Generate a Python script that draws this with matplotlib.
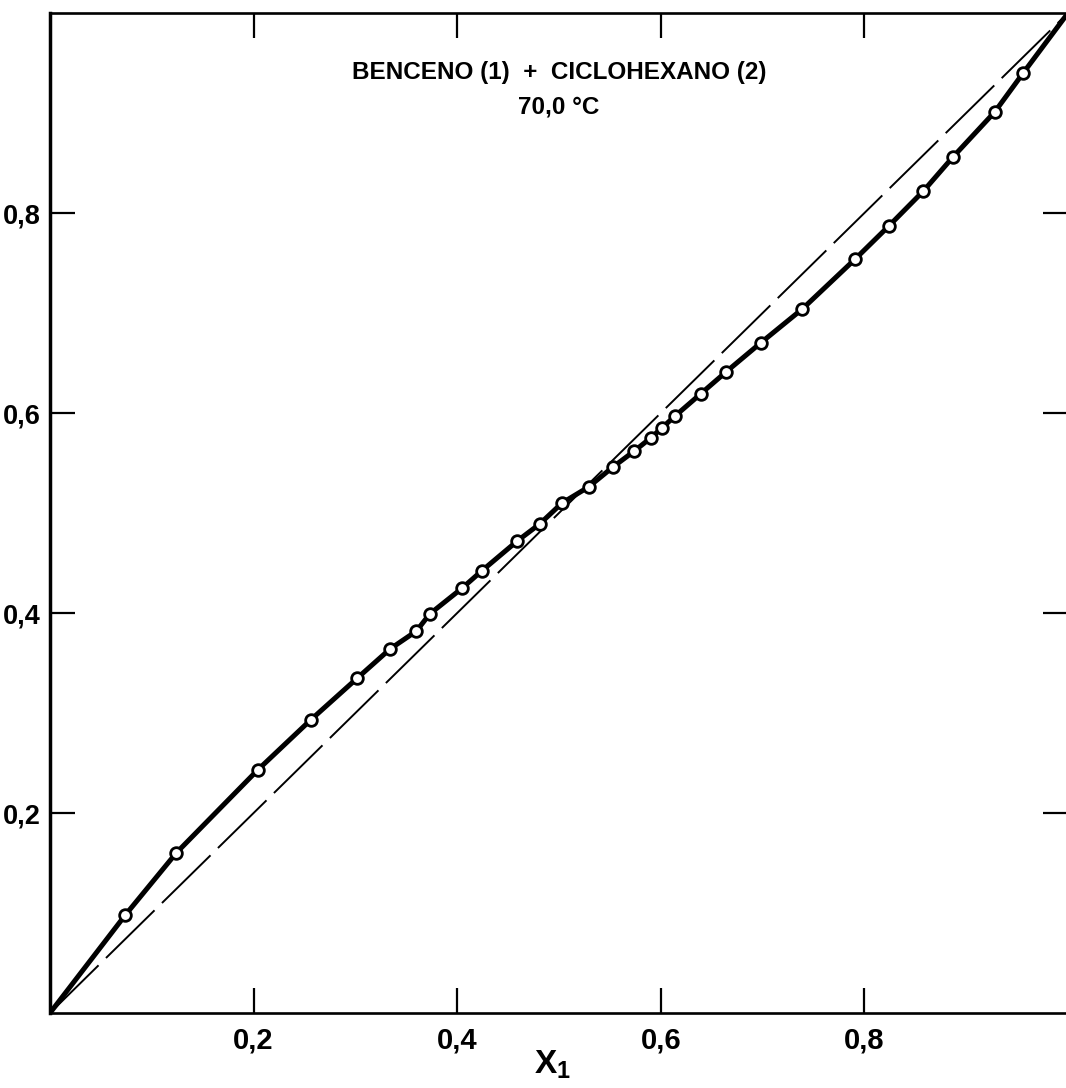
import matplotlib
matplotlib.use("Agg")
import matplotlib.pyplot as plt
from matplotlib.ticker import FuncFormatter

plt.rcParams['font.family'] = ['Liberation Sans', 'DejaVu Sans']
plt.rcParams['font.weight'] = 'bold'
plt.rcParams['mathtext.fontset'] = 'custom'
plt.rcParams['mathtext.rm'] = 'Liberation Sans:bold'
plt.rcParams['mathtext.bf'] = 'Liberation Sans:bold'
plt.rcParams['lines.scale_dashes'] = False

# Liquid (x1) and vapour (y1) mole fractions of benzene, 70.0 °C
x1 = [0.074, 0.124, 0.204, 0.256, 0.302, 0.334, 0.360, 0.373, 0.405, 0.424,
      0.459, 0.481, 0.503, 0.529, 0.553, 0.574, 0.590, 0.601, 0.614, 0.639,
      0.664, 0.698, 0.739, 0.791, 0.824, 0.858, 0.887, 0.928, 0.956]
y1 = [0.098, 0.160, 0.243, 0.293, 0.335, 0.364, 0.382, 0.399, 0.425, 0.442,
      0.472, 0.489, 0.510, 0.526, 0.546, 0.562, 0.575, 0.585, 0.597, 0.619,
      0.641, 0.670, 0.704, 0.754, 0.787, 0.822, 0.856, 0.901, 0.940]

# pure-component end points of the equilibrium curve
x_ends = [0.0, 1.0]
y_ends = [0.0, 1.0]

ticks = [0.2, 0.4, 0.6, 0.8]
title_lines = ["BENCENO (1)  +  CICLOHEXANO (2)", "70,0 °C"]

fig = plt.figure(figsize=(10.66, 10.88), dpi=100)
ax = fig.add_axes([50 / 1066, 75 / 1088, 1018 / 1066, 1000 / 1088])

# diagonal y = x
ax.plot(x_ends, y_ends, color='black', lw=1.4, dashes=(49, 7.5), zorder=2)

# equilibrium curve through the measured points
curve_x = [x_ends[0]] + x1 + [x_ends[1]]
curve_y = [y_ends[0]] + y1 + [y_ends[1]]
ax.plot(curve_x, curve_y, color='black', lw=3.6, solid_capstyle='round',
        solid_joinstyle='round', zorder=3)
ax.plot(x1, y1, linestyle='none', marker='o', ms=8.4, mew=2.0,
        mfc='white', mec='black', zorder=4)

ax.set_xlim(0, 1)
ax.set_ylim(0, 1)
ax.set_xticks(ticks)
ax.set_yticks(ticks)
comma = FuncFormatter(lambda v, p: f"{v:.1f}".replace('.', ','))
ax.xaxis.set_major_formatter(comma)
ax.yaxis.set_major_formatter(comma)
ax.tick_params(direction='in', top=True, right=True, length=18, width=1.6,
               labelsize=21, pad=10)
ax.tick_params(axis='y', labelsize=19.5, pad=7)
for lab in ax.get_xticklabels() + ax.get_yticklabels():
    lab.set_fontweight('bold')

for side, lw in [('left', 2.5), ('bottom', 1.9), ('top', 1.9), ('right', 1.9)]:
    ax.spines[side].set_linewidth(lw)

ax.set_xlabel(r'$\mathbf{X_1}$', fontsize=24)
ax.xaxis.set_label_coords(0.494, -0.036)

ax.text(0.5, 0.94, title_lines[0], ha='center', va='center',
        fontsize=17.5, fontweight='bold')
ax.text(0.5, 0.906, title_lines[1], ha='center', va='center',
        fontsize=17.5, fontweight='bold')

fig.savefig('out.png', dpi=100)
